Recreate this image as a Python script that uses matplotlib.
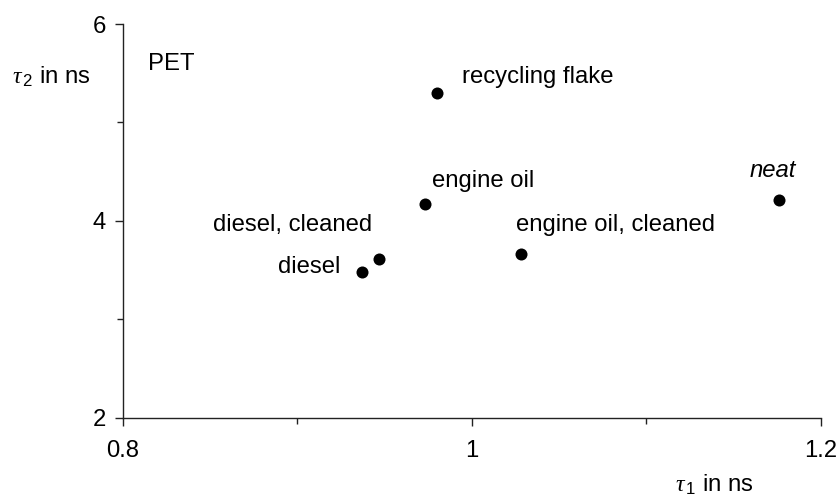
import matplotlib

matplotlib.use("Agg")
import matplotlib.pyplot as plt
from matplotlib.ticker import MultipleLocator

plt.rcParams["font.family"] = ["Liberation Sans", "DejaVu Sans"]
plt.rcParams["mathtext.fontset"] = "custom"
plt.rcParams["mathtext.rm"] = "Liberation Sans"
plt.rcParams["mathtext.it"] = "Liberation Serif:italic"

# data
samples = ["recycling flake", "engine oil", "engine oil, cleaned",
           "diesel, cleaned", "diesel", "neat"]
tau1 = [0.980, 0.973, 1.028, 0.947, 0.937, 1.176]
tau2 = [5.30, 4.17, 3.665, 3.61, 3.485, 4.21]

# label placement (offset in pixels, alignment, style)
label_style = {
    "recycling flake": ((25, 16), "left", "normal"),
    "engine oil": ((7, 23), "left", "normal"),
    "engine oil, cleaned": ((-5, 29), "left", "normal"),
    "diesel, cleaned": ((-7, 34), "right", "normal"),
    "diesel": ((-22, 5), "right", "normal"),
    "neat": ((-6, 30), "center", "italic"),
}

FS = 17.2

fig = plt.figure(figsize=(8.39, 4.97), dpi=100)
ax = fig.add_axes([0.1466, 0.159, 0.8319, 0.7927])

ax.scatter(tau1, tau2, s=75, color="black", zorder=3, linewidths=0)

for name, x, y in zip(samples, tau1, tau2):
    off, ha, style = label_style[name]
    ax.annotate(name, (x, y), xytext=off, textcoords="offset pixels",
                ha=ha, va="center", fontsize=FS, style=style)

ax.text(0.036, 0.898, "PET", transform=ax.transAxes, fontsize=FS,
        ha="left", va="center")

ax.set_xlim(0.8, 1.2)
ax.set_ylim(2, 6)
ax.xaxis.set_major_locator(MultipleLocator(0.2))
ax.xaxis.set_minor_locator(MultipleLocator(0.1))
ax.yaxis.set_major_locator(MultipleLocator(2))
ax.yaxis.set_minor_locator(MultipleLocator(1))
ax.set_xticks([0.8, 1.0, 1.2], ["0.8", "1", "1.2"])
ax.set_yticks([2, 4, 6], ["2", "4", "6"])

for side in ["top", "right"]:
    ax.spines[side].set_visible(False)
for side in ["left", "bottom"]:
    ax.spines[side].set_linewidth(1.0)
    ax.spines[side].set_color("#222222")

ax.tick_params(which="major", direction="out", length=5.5, width=1.0,
               labelsize=FS, color="#222222")
ax.tick_params(which="minor", direction="out", length=4.2, width=1.0,
               color="#222222")
ax.tick_params(axis="x", which="major", pad=10.5)
ax.tick_params(axis="y", which="major", pad=7)

fig.text(12 / 839, 1 - 77 / 497, r"$\tau_{\,\mathrm{2}}$ in ns", fontsize=FS,
         ha="left", va="center")
fig.text(675 / 839, 1 - 485 / 497, r"$\tau_{\,\mathrm{1}}$ in ns", fontsize=FS,
         ha="left", va="center")

fig.savefig("out.png", dpi=100)
plt.close(fig)
